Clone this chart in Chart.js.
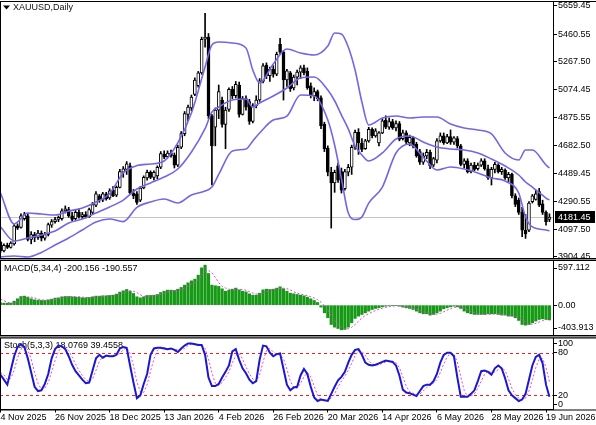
<!DOCTYPE html>
<html><head><meta charset="utf-8">
<script src="https://cdn.jsdelivr.net/npm/chart.js@4.4.1/dist/chart.umd.min.js"></script>
<style>
html,body{margin:0;padding:0;background:#fff;}
#wrap{position:relative;width:596px;height:425px;overflow:hidden;background:#fff;}
#wrap canvas{position:absolute;left:0;}
</style></head><body>
<div id="wrap">
<canvas id="cMain" width="596" height="268" style="top:0;width:596px;height:268px"></canvas>
<canvas id="cMacd" width="596" height="92" style="top:252px;width:596px;height:92px"></canvas>
<canvas id="cStoch" width="596" height="95" style="top:330px;width:596px;height:95px"></canvas>
</div>
<script>
// ---------------- data ----------------
const symbolTitle = 'XAUUSD,Daily';
const dateLabels = ['4 Nov 2025','26 Nov 2025','18 Dec 2025','13 Jan 2026','4 Feb 2026','26 Feb 2026','20 Mar 2026','14 Apr 2026','6 May 2026','28 May 2026','19 Jun 2026'];
const dateStep = 16;
const priceTicks = [5659.45,5460.55,5267.50,5074.45,4875.55,4682.50,4489.45,4290.55,4097.50,3904.45];
const macdTickLabels = ['-403.913','0.00','597.112'];
const stochTickLabels = ['0','20','80','100'];
const stochLevels = [20, 80];

const opens = [4005,3945,3985,3970,3995,4120,4110,4170,4190,4025,
4060,4040,4070,4035,4060,4125,4150,4165,4170,4225,
4235,4190,4170,4215,4185,4200,4185,4215,4265,4330,
4300,4345,4315,4370,4335,4390,4495,4515,4540,4350,
4345,4300,4385,4455,4495,4460,4470,4530,4620,4605,
4630,4615,4545,4670,4765,4900,4945,5040,5100,5190,
5425,5440,4890,4810,4930,5000,4830,4935,5075,5030,
5105,4900,5010,4990,4850,4960,5000,5130,5245,5170,
5215,5180,5390,5335,5140,5190,5085,5160,5195,5225,
5200,5100,5030,5060,5015,4830,4665,4495,4420,4540,
4500,4380,4495,4530,4670,4775,4700,4660,4715,4795,
4750,4700,4770,4860,4810,4850,4805,4835,4730,4770,
4700,4735,4690,4640,4565,4610,4635,4545,4580,4715,
4750,4700,4745,4705,4730,4680,4550,4575,4500,4545,
4520,4545,4575,4520,4455,4515,4545,4500,4510,4455,
4480,4330,4300,4215,4090,4090,4290,4305,4360,4275,
4215,4165];
const highs = [4012,3995,4000,4010,4130,4135,4205,4215,4205,4080,
4075,4090,4085,4075,4140,4165,4180,4190,4240,4260,
4250,4215,4230,4240,4215,4220,4245,4285,4360,4340,
4355,4355,4380,4395,4400,4515,4535,4570,4560,4375,
4360,4395,4470,4510,4505,4505,4540,4640,4645,4645,
4650,4630,4685,4780,4920,4965,5035,5155,5200,5440,
5606,5465,4900,4945,5105,5020,4950,5085,5095,5130,
5125,5025,5030,5005,4975,5030,5150,5255,5260,5230,
5240,5335,5431,5345,5215,5200,5175,5210,5240,5245,
5225,5120,5085,5070,5030,4845,4680,4530,4510,4560,
4525,4515,4550,4685,4790,4800,4730,4725,4810,4805,
4800,4780,4870,4890,4875,4865,4855,4850,4790,4785,
4755,4745,4705,4655,4630,4655,4650,4600,4730,4770,
4770,4760,4791,4745,4745,4690,4590,4590,4560,4565,
4560,4590,4590,4545,4530,4565,4555,4530,4520,4495,
4490,4345,4315,4250,4200,4290,4340,4370,4383,4300,
4225,4205];
const lows = [3935,3938,3962,3965,3985,4095,4105,4160,4015,3995,
4010,4025,4015,4020,4050,4110,4140,4150,4160,4210,
4180,4155,4160,4175,4170,4175,4180,4205,4255,4285,
4290,4300,4305,4325,4325,4385,4460,4480,4340,4310,
4270,4290,4380,4440,4450,4440,4450,4520,4590,4595,
4600,4525,4535,4660,4750,4855,4925,5030,5090,5180,
5370,4870,4406,4680,4870,4810,4660,4920,5010,5015,
4880,4895,4930,4830,4840,4945,4990,5120,5150,5130,
5160,5170,5320,5000,5095,5060,5070,5105,5150,5175,
5075,5015,4995,4995,4800,4640,4470,4105,4355,4425,
4350,4370,4470,4480,4655,4620,4640,4655,4705,4735,
4740,4680,4765,4800,4795,4795,4785,4715,4720,4695,
4680,4665,4600,4550,4550,4590,4520,4535,4560,4705,
4690,4695,4690,4690,4665,4540,4525,4490,4490,4505,
4510,4535,4510,4445,4406,4490,4490,4480,4445,4430,
4315,4255,4200,4045,4033,4080,4280,4300,4255,4200,
4125,4150];
const closes = [3945,3985,3970,4000,4120,4105,4190,4200,4025,4060,
4040,4070,4035,4060,4130,4150,4165,4180,4225,4240,
4190,4165,4215,4185,4200,4185,4235,4270,4345,4300,
4345,4310,4365,4330,4390,4500,4520,4555,4350,4330,
4285,4385,4460,4495,4460,4495,4530,4625,4600,4630,
4610,4545,4670,4765,4905,4950,5020,5140,5190,5425,
5440,4890,4680,4930,5060,4830,4930,5075,5030,5110,
4900,5010,4950,4850,4960,5000,5135,5240,5170,5215,
5180,5320,5335,5140,5205,5080,5160,5195,5225,5190,
5085,5030,5060,5010,4820,4660,4495,4420,4495,4440,
4370,4500,4530,4670,4775,4700,4655,4715,4795,4750,
4785,4770,4855,4810,4850,4805,4835,4725,4770,4705,
4740,4680,4610,4565,4610,4635,4540,4590,4715,4750,
4700,4745,4705,4735,4680,4550,4575,4500,4545,4515,
4545,4575,4520,4455,4515,4550,4500,4515,4455,4480,
4330,4270,4215,4090,4065,4280,4330,4345,4265,4215,
4150,4181.45];

// Bollinger bands, read at these bar indices
const bandIdx = [0,4,8,12,16,20,24,28,32,36,40,44,48,52,56,60,62,64,68,72,74,76,80,84,88,92,96,98,100,102,104,106,108,112,116,120,124,128,132,136,140,144,148,152,154,156,160,161];
const bbUpper = [4350,4134,4210,4203,4196,4224,4245,4287,4345,4490,4542,4553,4574,4700,4909,5231,5385,5406,5399,5364,5210,5119,5252,5357,5329,5315,5378,5469,5462,5371,5210,4986,4826,4874,4888,4874,4881,4881,4833,4805,4791,4763,4630,4581,4651,4651,4546,4525];
const bbMiddle = [4113,4015,4036,4057,4085,4141,4168,4210,4252,4301,4378,4420,4462,4518,4637,4800,4916,4951,5000,5007,4951,4979,5028,5084,5154,5161,5070,4995,4895,4798,4679,4616,4574,4630,4728,4749,4707,4672,4658,4651,4630,4588,4539,4476,4427,4392,4315,4301];
const bbLower = [3903,3910,3903,3935,3987,4036,4092,4148,4169,4150,4250,4287,4308,4280,4336,4364,4392,4480,4644,4658,4714,4770,4860,4888,5035,5028,4860,4686,4450,4210,4165,4183,4280,4392,4630,4693,4600,4511,4532,4518,4490,4455,4434,4350,4183,4113,4092,4085];

const macdHist = [32,27,27,27,54,86,117,122,108,86,
72,68,63,63,72,81,95,99,113,117,
117,113,108,108,99,99,104,113,122,122,
126,126,131,135,149,176,194,212,189,158,
113,99,113,131,131,135,144,171,189,203,
203,198,216,239,271,302,329,352,406,505,
541,428,271,262,253,221,189,203,216,230,
207,189,180,153,135,135,162,207,216,212,
216,230,248,221,189,162,153,144,135,126,
108,86,63,36,-27,-104,-171,-262,-298,-316,
-334,-329,-298,-239,-180,-149,-126,-104,-81,-59,
-45,-36,-23,-14,-9,-5,-5,-14,-27,-36,
-45,-59,-81,-104,-117,-117,-135,-126,-104,-81,
-50,-36,-23,-14,-23,-45,-81,-104,-117,-126,
-126,-126,-126,-117,-117,-117,-126,-135,-135,-149,
-149,-171,-207,-262,-271,-262,-239,-216,-194,-185,
-194,-200.156];
const macdSignal = [80,60,40,28,34,49,71,95,108,108,
97,84,72,67,67,70,78,87,97,106,
112,115,114,112,107,104,103,104,110,115,
121,124,126,130,135,148,164,183,193,188,
168,140,121,114,119,128,135,145,160,177,
192,198,205,214,231,257,285,314,347,398,
451,470,436,376,304,252,231,217,207,210,
214,211,202,182,164,151,146,160,180,199,
213,219,227,229,222,205,181,162,149,140,
128,114,96,73,40,-8,-67,-141,-209,-262,
-303,-319,-319,-300,-262,-217,-174,-140,-115,-93,
-72,-55,-41,-30,-21,-13,-8,-8,-13,-21,
-31,-42,-55,-72,-90,-105,-118,-124,-121,-112,
-90,-68,-48,-31,-24,-26,-41,-63,-87,-107,
-118,-124,-126,-124,-122,-119,-119,-124,-128,-136,
-142,-151,-169,-197,-228,-251,-259,-247,-228,-209,
-197,-190.557];

const stochMain = [49,42,35,55,75,88,92,88,72,52,
32,26,27,36,50,72,85,90,89,85,
75,63,54,48,42,37,38,55,72,77,
73,76,75,75,77,86,88,87,62,38,
16,20,36,50,77,86,87,87,86,85,
86,84,81,86,90,93,93,92,91,91,
77,45,33,33,36,45,53,62,82,85,
70,58,51,42,37,40,70,90,89,80,
75,78,79,57,35,27,31,32,48,57,
50,32,17,12,14,13,12,22,32,41,
46,53,66,77,84,85,77,66,63,62,
63,65,67,69,68,67,62,48,28,24,
23,21,19,26,33,35,35,40,50,66,
77,80,80,75,45,18,18,18,22,27,
40,54,55,53,49,58,62,58,44,27,
20,16,12,14,22,42,62,74,77,65,
35,18.0769];
const stochSignal = [52,49,42,44,55,73,85,89,84,71,
52,37,28,30,38,53,69,82,88,88,
83,74,64,55,48,42,39,43,55,68,
74,75,75,75,76,79,84,87,79,62,
39,25,24,35,54,71,83,87,87,86,
86,85,84,84,86,90,92,93,92,91,
86,71,52,37,34,38,45,53,66,76,
79,71,60,50,43,40,49,67,83,86,
81,78,77,71,57,40,31,30,37,46,
52,46,33,20,14,13,13,16,22,32,
40,47,55,65,76,82,82,76,69,64,
63,63,65,67,68,68,66,59,46,33,
25,23,21,22,26,31,34,37,42,52,
64,74,79,78,67,46,27,18,19,22,
30,40,50,54,52,53,56,59,55,43,
30,21,16,14,16,26,42,59,71,72,
59,39.4558];

// ---------------- layout / style ----------------
const FONT = "'Liberation Sans', Arial, sans-serif";
const X_MIN = -0.15, X_MAX = 162.05;
const PRICE_MIN = 3895.9, PRICE_MAX = 5685.3;
const MACD_MIN = -403.913, MACD_MAX = 597.112;
const AXIS_W = 43;
const BAND_COLOR = '#7466e6';
const idx = closes.map((_, i) => i);
const N = closes.length;

const baseOpts = () => ({
  responsive: false, animation: false, events: [],
  plugins: { legend: { display: false }, tooltip: { enabled: false } }
});
const xHidden = { type: 'linear', min: X_MIN, max: X_MAX, offset: false, display: false };
function yAxis(extra) {
  return Object.assign({
    position: 'right',
    grid: { drawOnChartArea: false, drawTicks: true, tickLength: 4, color: '#000' },
    border: { display: true, color: '#000', width: 1 },
    afterFit: s => { s.width = AXIS_W; s.paddingTop = 0; s.paddingBottom = 0; }
  }, extra);
}
// panel frame; separators span the full window width
function frame(name) {
  return {
    id: 'frame' + name,
    afterDraw(chart) {
      const { ctx, chartArea: a, width } = chart;
      ctx.save();
      ctx.strokeStyle = '#000'; ctx.lineWidth = 1;
      ctx.beginPath();
      ctx.moveTo(a.left + 0.5, a.top - 0.5); ctx.lineTo(a.left + 0.5, a.bottom + 0.5);
      ctx.moveTo(0, a.top - 0.5); ctx.lineTo(width, a.top - 0.5);
      ctx.moveTo(0, a.bottom + 0.5); ctx.lineTo(width, a.bottom + 0.5);
      ctx.stroke();
      ctx.restore();
    }
  };
}
function label(ctx, text, x, y, color) {
  ctx.save();
  ctx.font = '9px ' + FONT; ctx.fillStyle = color || '#000';
  ctx.textBaseline = 'middle'; ctx.textAlign = 'left';
  ctx.fillText(text, x, y);
  ctx.restore();
}
const tickFont = { family: FONT, size: 9 };

// ---------------- main price chart ----------------
const mainDecor = {
  id: 'mainDecor',
  beforeDatasetsDraw(chart) {
    const { ctx, chartArea: a, scales: { y } } = chart;
    const py = Math.round(y.getPixelForValue(closes[N - 1])) + 0.5;
    ctx.save();
    ctx.strokeStyle = '#c4c4c4'; ctx.lineWidth = 1;
    ctx.beginPath(); ctx.moveTo(a.left, py); ctx.lineTo(a.right, py); ctx.stroke();
    ctx.restore();
  },
  afterDraw(chart) {
    const { ctx, chartArea: a, scales: { y } } = chart;
    const py = Math.round(y.getPixelForValue(closes[N - 1]));
    ctx.save();
    ctx.fillStyle = '#000';
    ctx.fillRect(a.right + 2, py - 6, 40, 12);
    ctx.restore();
    label(ctx, closes[N - 1].toFixed(2), a.right + 5, py + 0.5, '#fff');
    ctx.save();
    ctx.fillStyle = '#000';
    ctx.beginPath(); ctx.moveTo(3, 5.5); ctx.lineTo(10, 5.5); ctx.lineTo(6.5, 9.5); ctx.closePath(); ctx.fill();
    ctx.restore();
    label(ctx, symbolTitle, 13, 7.5, '#111');
  }
};
const bandDs = (vals) => ({
  type: 'line', data: bandIdx.map((x, k) => ({ x, y: vals[k] })),
  borderColor: BAND_COLOR, borderWidth: 1.6, pointRadius: 0,
  cubicInterpolationMode: 'monotone', order: 0
});
new Chart(document.getElementById('cMain'), {
  type: 'bar',
  data: { datasets: [
    bandDs(bbUpper), bandDs(bbMiddle), bandDs(bbLower),
    { type: 'bar', data: idx.map(i => ({ x: i, y: [lows[i], highs[i]] })),
      backgroundColor: '#000', barThickness: 1, grouped: false, order: 2 },
    { type: 'bar', data: idx.map(i => ({ x: i, y: [opens[i], closes[i]] })),
      backgroundColor: c => (closes[c.dataIndex] >= opens[c.dataIndex] ? '#fff' : '#000'),
      borderColor: '#000', borderWidth: 1, borderSkipped: false,
      barThickness: 3, grouped: false, order: 1 }
  ]},
  options: Object.assign(baseOpts(), {
    layout: { padding: { top: 2, bottom: 10, left: 0, right: 0 } },
    scales: {
      x: xHidden,
      y: yAxis({
        min: PRICE_MIN, max: PRICE_MAX,
        afterBuildTicks: s => { s.ticks = priceTicks.slice().reverse().map(v => ({ value: v })); },
        ticks: { autoSkip: false, color: '#000', padding: 1, font: tickFont,
                 callback: v => Number(v).toFixed(2) }
      })
    }
  }),
  plugins: [mainDecor, frame('m')]
});

// ---------------- MACD ----------------
const MACD_PX = 74;
new Chart(document.getElementById('cMacd'), {
  type: 'bar',
  data: { datasets: [
    { type: 'line', data: idx.map(i => ({ x: i, y: macdSignal[i] })),
      borderColor: '#e040d8', borderWidth: 1, borderDash: [2, 2], pointRadius: 0, order: 0 },
    { type: 'bar', data: idx.map(i => ({ x: i, y: macdHist[i] })),
      backgroundColor: '#169a16', barThickness: 2.5, grouped: false, order: 1 }
  ]},
  options: Object.assign(baseOpts(), {
    layout: { padding: { top: 9, bottom: 9, left: 0, right: 0 } },
    scales: {
      x: xHidden,
      y: yAxis({
        min: MACD_MIN, max: MACD_MAX,
        afterBuildTicks: s => {
          const off = 7 * (MACD_MAX - MACD_MIN) / MACD_PX;
          s.ticks = [{ value: MACD_MIN + off }, { value: 0 }, { value: MACD_MAX - off }];
        },
        ticks: { autoSkip: false, color: '#000', padding: 1, font: tickFont,
                 callback: (v, i) => macdTickLabels[i] }
      })
    }
  }),
  plugins: [{
    id: 'sepTop',
    beforeDraw(chart) {
      const { ctx, chartArea: a, width } = chart;
      ctx.save(); ctx.fillStyle = '#8c8c8c';
      ctx.fillRect(0, a.top - 2, width, 1.5);
      ctx.restore();
    }
  }, frame('d'), {
    id: 'macdText',
    beforeDatasetsDraw(chart) {
      label(chart.ctx, 'MACD(5,34,4) ' + macdHist[N - 1].toFixed(3) + ' ' + macdSignal[N - 1].toFixed(3), 4, chart.chartArea.top + 8);
    }
  }]
});

// ---------------- Stochastic ----------------
const STOCH_PX = 71;
new Chart(document.getElementById('cStoch'), {
  type: 'line',
  data: { datasets: [
    { data: idx.map(i => ({ x: i, y: stochSignal[i] })),
      borderColor: '#f040e0', borderWidth: 1, borderDash: [2, 2], pointRadius: 0, order: 1 },
    { data: idx.map(i => ({ x: i, y: stochMain[i] })),
      borderColor: '#1818d0', borderWidth: 2, pointRadius: 0, order: 0 }
  ]},
  options: Object.assign(baseOpts(), {
    layout: { padding: { top: 8.5, bottom: 0, left: 0, right: 0 } },
    scales: {
      x: {
        type: 'linear', min: X_MIN, max: X_MAX, offset: false,
        afterBuildTicks: s => { s.ticks = dateLabels.map((_, k) => ({ value: k * dateStep })); },
        ticks: { autoSkip: false, maxRotation: 0, align: 'start', padding: 0, color: '#000',
                 font: tickFont, callback: (v, i) => dateLabels[i] },
        grid: { drawOnChartArea: false, drawTicks: true, tickLength: 3, color: '#000' },
        border: { display: true, color: '#000' },
        afterFit: s => { s.height = 15.5; s.paddingLeft = 0; s.paddingRight = 0; }
      },
      y: yAxis({
        min: 0, max: 100,
        afterBuildTicks: s => {
          const off = 5 * 100 / STOCH_PX;
          s.ticks = [{ value: off }, { value: 20 }, { value: 80 }, { value: 100 - off }];
        },
        ticks: { autoSkip: false, color: '#000', padding: 1, font: tickFont,
                 callback: (v, i) => stochTickLabels[i] }
      })
    }
  }),
  plugins: [{
    id: 'sepTop2',
    beforeDraw(chart) {
      const { ctx, chartArea: a, width } = chart;
      ctx.save(); ctx.fillStyle = '#8c8c8c';
      ctx.fillRect(0, a.top - 2.5, width, 2);
      ctx.restore();
    }
  }, frame('s'), {
    id: 'stochDecor',
    beforeDatasetsDraw(chart) {
      const { ctx, chartArea: a, scales: { y } } = chart;
      label(ctx, 'Stoch(5,3,3) ' + stochMain[N - 1].toFixed(4) + ' ' + stochSignal[N - 1].toFixed(4), 4, a.top + 7);
      ctx.save();
      ctx.strokeStyle = '#ff1a1a'; ctx.lineWidth = 1; ctx.setLineDash([3, 3]);
      stochLevels.forEach(v => {
        const py = Math.round(y.getPixelForValue(v)) + 0.5;
        ctx.beginPath(); ctx.moveTo(a.left, py); ctx.lineTo(a.right, py); ctx.stroke();
      });
      ctx.restore();
    }
  }]
});
</script>
</body></html>
